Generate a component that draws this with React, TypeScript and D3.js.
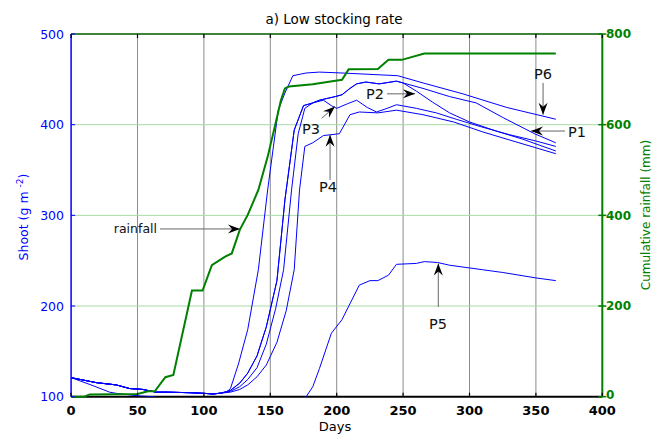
import React from 'react';
import * as d3 from 'd3';

// day, cumulative rainfall (mm) - right axis
const rainfall: [number, number][] = [
  [0, 0], [10, 0], [14, 5], [50, 6], [58, 12], [63, 12], [71, 43], [77, 48], [91, 234], [99, 234],
  [106, 290], [116, 309], [121, 316], [127, 368], [133, 401], [141, 456], [148, 529], [154, 603],
  [158, 654], [161, 680], [164, 684], [182, 689], [199, 697], [204, 699], [209, 722], [231, 723],
  [239, 743], [249, 743], [266, 757], [365, 757],
];

// shoot (g m-2) - left axis
const p1: [number, number][] = [
  [0, 121], [19, 115.5], [34, 113], [44, 109], [54, 108], [64, 105], [72, 105], [90, 104.4], [100, 103.7],
  [107, 103], [113, 104], [120, 107], [127, 115], [133, 126], [140, 145], [147, 177], [155, 228], [161, 317],
  [168, 394], [175, 421], [182, 424], [187, 427], [199, 431], [204, 433], [210, 440], [215, 445], [222, 447],
  [232, 445], [245, 448], [250, 446], [265, 440], [285, 431], [305, 424], [325, 408], [349, 390], [365, 380],
];
const p2: [number, number][] = [
  [0, 121], [19, 115.5], [34, 113], [44, 109], [54, 108], [64, 105], [72, 105], [90, 104.4], [100, 103.7],
  [107, 103], [113, 104], [120, 107], [127, 115], [133, 126], [140, 145], [147, 177], [155, 228], [161, 317],
  [168, 394], [175, 421], [182, 424], [187, 427], [199, 431], [204, 433], [210, 440], [215, 445], [222, 447],
  [232, 445], [245, 448], [250, 446], [260, 437], [272, 425], [285, 413], [300, 403], [320, 393], [340, 384],
  [365, 371],
];
const p3: [number, number][] = [
  [0, 121], [19, 115.5], [34, 113], [44, 109], [54, 108], [64, 105], [72, 105], [90, 104.4], [100, 103.7],
  [107, 103], [113, 104], [120, 106], [127, 111], [133, 119], [140, 132], [147, 158], [154, 197], [160, 240],
  [166, 328], [171, 390], [176, 418], [182, 424], [190, 427], [196, 421], [200, 418], [208, 423], [215, 427],
  [223, 419], [230, 414], [238, 418], [245, 422], [260, 418], [275, 413], [290, 406], [308, 398], [330, 389],
  [350, 382], [365, 376],
];
const p4: [number, number][] = [
  [0, 121], [19, 115.5], [34, 113], [44, 109], [54, 108], [64, 105], [72, 105], [90, 104.4], [100, 103.7],
  [107, 103], [113, 104], [120, 105], [127, 108], [133, 113], [140, 122], [147, 135], [155, 160], [162, 195],
  [168, 240], [172, 328], [176, 376], [182, 380], [190, 388], [202, 390], [210, 411], [217, 414], [231, 413],
  [245, 416], [265, 411], [288, 403], [310, 392], [335, 381], [365, 368],
];
const p5: [number, number][] = [
  [0, 121], [15, 113], [29, 105], [34, 103.7], [50, 101], [62, 100], [70, 98], [170, 97], [177, 100],
  [182, 111], [187, 131], [196, 170], [204, 185], [217, 223], [225, 228], [231, 228], [239, 234], [245, 246],
  [260, 247], [266, 249], [276, 248], [285, 245], [300, 242], [310, 240], [325, 237], [350, 231], [365, 228],
];
const p6: [number, number][] = [
  [0, 121], [19, 115.5], [34, 113], [44, 109], [54, 108], [64, 105], [72, 105], [90, 104.4], [100, 103.7],
  [107, 103], [113, 104], [117, 105], [120, 109], [126, 136], [133, 174], [141, 240], [148, 328], [156, 416],
  [161, 435], [167, 454], [177, 457], [187, 458], [204, 457], [246, 454], [265, 446], [295, 434], [328, 419],
  [365, 406],
];
const shootSeries = [p1, p2, p3, p4, p5, p6];

const xTicks = [0, 50, 100, 150, 200, 250, 300, 350, 400];
const leftTicks = [100, 200, 300, 400, 500];
const rightTicks = [0, 200, 400, 600, 800];

// annotations in data units (day, shoot)
const labels = [
  { text: 'rainfall', tx: 64.7, ty: 285, x1: 67, y1: 285, x2: 127.2, y2: 285, anchor: 'end' },
  { text: 'P3', tx: 180.7, ty: 396, x1: 188.7, y1: 407, x2: 198.7, y2: 420, anchor: 'middle' },
  { text: 'P4', tx: 193.5, ty: 331, x1: 195, y1: 339, x2: 195, y2: 389, anchor: 'middle' },
  { text: 'P2', tx: 228.9, ty: 434, x1: 237.9, y1: 434, x2: 259, y2: 434, anchor: 'middle' },
  { text: 'P6', tx: 355.4, ty: 456, x1: 355.4, y1: 446, x2: 355.4, y2: 411, anchor: 'middle' },
  { text: 'P1', tx: 380.9, ty: 392, x1: 371.9, y1: 393, x2: 346.3, y2: 393, anchor: 'middle' },
  { text: 'P5', tx: 276.3, ty: 180, x1: 276.5, y1: 199, x2: 276.5, y2: 247, anchor: 'middle' },
];

const FONT = 'DejaVu Sans';
const BLUE = '#0000ff';
const GREEN = '#008000';

export default function App() {
  const x = d3.scaleLinear().domain([0, 400]).range([71.1, 602.3]);
  const yL = d3.scaleLinear().domain([100, 500]).range([396.7, 34]);
  const yR = d3.scaleLinear().domain([0, 800]).range([396.7, 34]);
  const [x0, x1] = x.range();
  const [yb, yt] = yL.range();

  const shootLine = d3.line<[number, number]>().x(d => x(d[0])).y(d => yL(d[1]));
  const rainLine = d3.line<[number, number]>().x(d => x(d[0])).y(d => yR(d[1]));

  const arrowHead = (ax: number, ay: number, bx: number, by: number) => {
    const ang = (Math.atan2(by - ay, bx - ax) * 180) / Math.PI;
    return (
      <path
        d="M0,0 L-12,-4.5 L-8,0 L-12,4.5 Z"
        fill="#000"
        transform={`translate(${bx},${by}) rotate(${ang})`}
      />
    );
  };

  return (
    <div style={{ position: 'absolute', left: 0, top: 0, background: '#fff' }}>
      <svg width={652} height={435} style={{ display: 'block' }} fontFamily={FONT}>
        <rect width={652} height={435} fill="#fff" />
        <defs>
          <clipPath id="plotclip">
            <rect x={x0} y={yt} width={x1 - x0} height={yb - yt} />
          </clipPath>
        </defs>

        {/* grid */}
        {xTicks.slice(1, -1).map(t => (
          <line key={'gx' + t} x1={x(t)} x2={x(t)} y1={yt} y2={yb} stroke="#8c8c8c" strokeWidth={1} />
        ))}
        {leftTicks.slice(1, -1).map(t => (
          <line key={'gy' + t} x1={x0} x2={x1} y1={yL(t)} y2={yL(t)} stroke="#a8daa8" strokeWidth={1} />
        ))}

        {/* frame */}
        <line x1={x0} x2={x1} y1={yt} y2={yt} stroke="#005a00" strokeWidth={1.5} />
        <line x1={x0} x2={x1} y1={yb} y2={yb} stroke="#000" strokeWidth={2} />
        <line x1={x0} x2={x0} y1={yt} y2={yb} stroke={BLUE} strokeWidth={1.5} />
        <line x1={x1} x2={x1} y1={yt} y2={yb} stroke={GREEN} strokeWidth={2} />

        {/* shoot lines */}
        <g clipPath="url(#plotclip)">
          {shootSeries.map((s, i) => (
            <path key={i} d={shootLine(s) || ''} fill="none" stroke={BLUE} strokeWidth={1} />
          ))}
        </g>

        {/* rainfall */}
        <path d={rainLine(rainfall) || ''} fill="none" stroke={GREEN} strokeWidth={2} />

        {/* x ticks */}
        {xTicks.map(t => (
          <g key={'xt' + t}>
            <line x1={x(t)} x2={x(t)} y1={yb} y2={yb - 4} stroke="#000" strokeWidth={1.2} />
            <line x1={x(t)} x2={x(t)} y1={yt} y2={yt + 4} stroke="#000" strokeWidth={1.2} />
            <text x={x(t)} y={414.5} textAnchor="middle" fontSize={13} fontWeight="bold" fill="#000">
              {t}
            </text>
          </g>
        ))}
        {leftTicks.map(t => (
          <g key={'yl' + t}>
            <line x1={x0} x2={x0 + 4} y1={yL(t)} y2={yL(t)} stroke={BLUE} strokeWidth={1} />
            <text x={64} y={yL(t)} dy="0.36em" textAnchor="end" fontSize={12.5} fill={BLUE}>
              {t}
            </text>
          </g>
        ))}
        {rightTicks.map(t => (
          <g key={'yr' + t}>
            <line x1={x1 - 4} x2={x1 + 4} y1={yR(t)} y2={yR(t)} stroke={GREEN} strokeWidth={1.5} />
            <text x={606} y={yR(t)} dy={t === 0 ? '0.2em' : '0.36em'} textAnchor="start" fontSize={12} fontWeight="bold" fill={GREEN}>
              {t}
            </text>
          </g>
        ))}

        {/* titles */}
        <text x={334} y={24} textAnchor="middle" fontSize={13.5} fill="#000">
          a) Low stocking rate
        </text>
        <text x={335} y={431} textAnchor="middle" fontSize={13} fill="#000">
          Days
        </text>
        <text transform="translate(28,217) rotate(-90)" textAnchor="middle" fontSize={12.5} fill={BLUE}>
          Shoot (g m <tspan dy={-5} fontSize={9}>-2</tspan>
          <tspan dy={5}>)</tspan>
        </text>
        <text transform="translate(650,215) rotate(-90)" textAnchor="middle" fontSize={12} fill={GREEN}>
          Cumulative rainfall (mm)
        </text>

        {/* annotations */}
        {labels.map(l => {
          const ax = x(l.x1), ay = yL(l.y1), bx = x(l.x2), by = yL(l.y2);
          return (
            <g key={l.text}>
              <line x1={ax} y1={ay} x2={bx} y2={by} stroke="#666" strokeWidth={1} />
              {arrowHead(ax, ay, bx, by)}
              <text
                x={x(l.tx)}
                y={yL(l.ty)}
                dy="0.36em"
                textAnchor={l.anchor as any}
                fontSize={l.text === 'rainfall' ? 12.5 : 14.5}
                fill="#111"
              >
                {l.text}
              </text>
            </g>
          );
        })}
      </svg>
    </div>
  );
}
